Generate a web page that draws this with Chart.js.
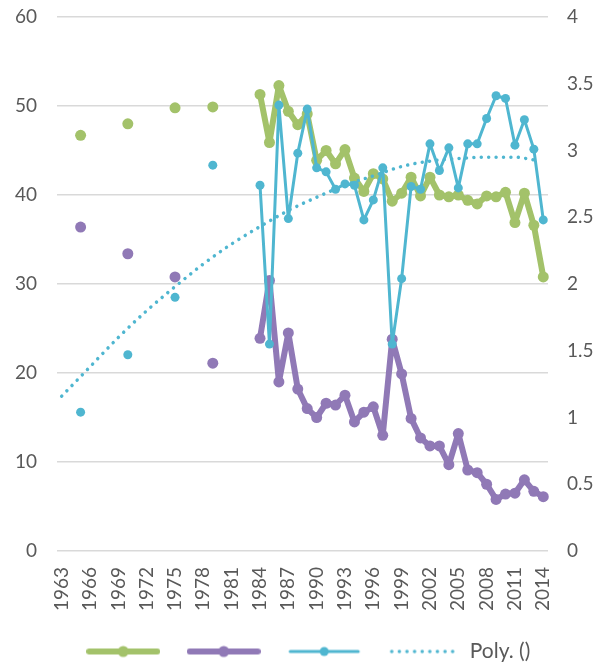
<!DOCTYPE html>
<html>
<head>
<meta charset="utf-8">
<script src="https://cdn.jsdelivr.net/npm/chart.js@4"></script>
<style>
  html, body { margin: 0; padding: 0; overflow: hidden; background: #fff; }
  canvas { display: block; }
</style>
</head>
<body>
<canvas id="chart" width="605" height="672"></canvas>
<script>
// anos do eixo x
const years = [];
for (let y = 1963; y <= 2014; y++) years.push(String(y));

// anos que têm valores nas três séries
const pointYears = [1965, 1970, 1975, 1979,
  1984, 1985, 1986, 1987, 1988, 1989, 1990, 1991, 1992, 1993, 1994, 1995, 1996, 1997, 1998, 1999,
  2000, 2001, 2002, 2003, 2004, 2005, 2006, 2007, 2008, 2009, 2010, 2011, 2012, 2013, 2014];

const greenValues = [46.7, 48.0, 49.8, 49.9,
  51.3, 45.9, 52.3, 49.4, 47.9, 49.1, 43.9, 45.0, 43.5, 45.1, 41.9, 40.4, 42.4, 41.8, 39.3, 40.2,
  42.0, 39.9, 42.0, 40.0, 39.8, 40.0, 39.4, 39.0, 39.9, 39.8, 40.3, 36.9, 40.2, 36.6, 30.8];

const purpleValues = [36.4, 33.4, 30.8, 21.1,
  23.9, 30.4, 19.0, 24.5, 18.2, 16.0, 15.0, 16.6, 16.4, 17.5, 14.5, 15.6, 16.2, 13.0, 23.8, 19.9,
  14.9, 12.7, 11.8, 11.8, 9.7, 13.2, 9.1, 8.8, 7.5, 5.8, 6.4, 6.5, 8.0, 6.7, 6.1];

// série no eixo da direita
const blueValues = [1.04, 1.47, 1.90, 2.89,
  2.74, 1.55, 3.34, 2.49, 2.98, 3.31, 2.87, 2.84, 2.71, 2.75, 2.74, 2.48, 2.63, 2.87, 1.55, 2.04,
  2.73, 2.71, 3.05, 2.85, 3.02, 2.72, 3.05, 3.05, 3.24, 3.41, 3.39, 3.04, 3.23, 3.01, 2.48];

// linha de tendência
const trendYears = [1963, 1966, 1969, 1972, 1975, 1978, 1981, 1984, 1987, 1990, 1993, 1996, 1999, 2002, 2005, 2008, 2011, 2013];
const trendValues = [1.16, 1.38, 1.60, 1.80, 1.98, 2.15, 2.30, 2.43, 2.55, 2.65, 2.74, 2.81, 2.88, 2.92, 2.94, 2.95, 2.95, 2.93];

const GREEN = '#A3C26A';
const PURPLE = '#9079B6';
const BLUE = '#4FB6D0';
const TEXT = '#595959';

function pairs(xs, ys) {
    return xs.map((x, i) => ({ x: String(x), y: ys[i] }));
}

// desenha o símbolo da legenda (linha com ponto)
function legendIcon(color, width, radius, dotted) {
    const c = document.createElement('canvas');
    c.width = 74;
    c.height = 14;
    const ctx = c.getContext('2d');
    ctx.strokeStyle = color;
    ctx.fillStyle = color;
    ctx.lineCap = 'round';
    ctx.lineWidth = width;
    ctx.beginPath();
    if (dotted) {
        ctx.setLineDash([0.01, 7.6]);
        ctx.moveTo(4, 7);
        ctx.lineTo(71, 7);
    } else {
        ctx.moveTo(3, 7);
        ctx.lineTo(71, 7);
    }
    ctx.stroke();
    if (radius) {
        ctx.beginPath();
        ctx.arc(37, 7, radius, 0, Math.PI * 2);
        ctx.fill();
    }
    return c;
}

// tira o espaço extra que o Chart.js reserva acima e abaixo dos eixos y
function fixYAxis(width) {
    return (scale) => {
        scale.width = width;
        scale.paddingTop = 17;
        scale.paddingBottom = 0;
    };
}

const ctx = document.getElementById('chart').getContext('2d');
new Chart(ctx, {
    type: 'line',
    data: {
        labels: years,
        datasets: [
            {
                label: '',
                data: pairs(pointYears, greenValues),
                yAxisID: 'y',
                borderColor: GREEN,
                backgroundColor: GREEN,
                borderWidth: 6,
                borderJoinStyle: 'round',
                borderCapStyle: 'round',
                pointRadius: 5.5,
                pointBorderWidth: 0,
                spanGaps: 1,
                order: 4
            },
            {
                label: '',
                data: pairs(pointYears, purpleValues),
                yAxisID: 'y',
                borderColor: PURPLE,
                backgroundColor: PURPLE,
                borderWidth: 6,
                borderJoinStyle: 'round',
                borderCapStyle: 'round',
                pointRadius: 5.5,
                pointBorderWidth: 0,
                spanGaps: 1,
                order: 3
            },
            {
                label: '',
                data: pairs(pointYears, blueValues),
                yAxisID: 'y2',
                borderColor: BLUE,
                backgroundColor: BLUE,
                borderWidth: 3,
                borderJoinStyle: 'round',
                pointRadius: 4.5,
                pointBorderWidth: 0,
                spanGaps: 1,
                order: 2
            },
            {
                label: 'Poly. ()',
                data: pairs(trendYears, trendValues),
                yAxisID: 'y2',
                borderColor: BLUE,
                borderWidth: 3.5,
                borderDash: [0.01, 7.4],
                borderCapStyle: 'round',
                pointRadius: 0,
                spanGaps: true,
                cubicInterpolationMode: 'monotone',
                order: 1
            }
        ]
    },
    options: {
        responsive: false,
        animation: false,
        events: [],
        layout: { padding: { left: 14, right: 0, top: 0, bottom: 0 } },
        scales: {
            x: {
                type: 'category',
                offset: true,
                grid: { display: false, drawTicks: false },
                border: { display: false },
                ticks: {
                    autoSkip: false,
                    minRotation: 90,
                    maxRotation: 90,
                    padding: 16,
                    color: TEXT,
                    font: { family: 'Lato', size: 19 },
                    callback: function (value, index) {
                        return index % 3 === 0 ? this.getLabelForValue(value) : null;
                    }
                },
                afterFit: (scale) => { scale.height = 69; }
            },
            y: {
                position: 'left',
                min: 0,
                max: 60,
                ticks: {
                    stepSize: 10,
                    padding: 20,
                    color: TEXT,
                    font: { family: 'Lato', size: 19 }
                },
                grid: { color: '#D9D9D9', lineWidth: 1.5, drawTicks: false },
                border: { display: false },
                afterFit: fixYAxis(43)
            },
            y2: {
                position: 'right',
                min: 0,
                max: 4,
                ticks: {
                    stepSize: 0.5,
                    padding: 19,
                    color: TEXT,
                    font: { family: 'Lato', size: 19 },
                    callback: (value) => String(value)
                },
                grid: { display: false, drawTicks: false },
                border: { display: false },
                afterFit: fixYAxis(57)
            }
        },
        plugins: {
            tooltip: { enabled: false },
            legend: {
                position: 'bottom',
                labels: {
                    usePointStyle: true,
                    pointStyleWidth: 69,
                    padding: 21,
                    color: TEXT,
                    font: { family: 'Lato', size: 21 },
                    generateLabels: () => [
                        { text: '', pointStyle: legendIcon(GREEN, 6, 5.5), fontColor: TEXT, datasetIndex: 0 },
                        { text: '', pointStyle: legendIcon(PURPLE, 6, 5.5), fontColor: TEXT, datasetIndex: 1 },
                        { text: '', pointStyle: legendIcon(BLUE, 3, 4.5), fontColor: TEXT, datasetIndex: 2 },
                        { text: 'Poly. ()', pointStyle: legendIcon(BLUE, 3.5, 0, true), fontColor: TEXT, datasetIndex: 3 }
                    ]
                }
            }
        }
    }
});
</script>
</body>
</html>
